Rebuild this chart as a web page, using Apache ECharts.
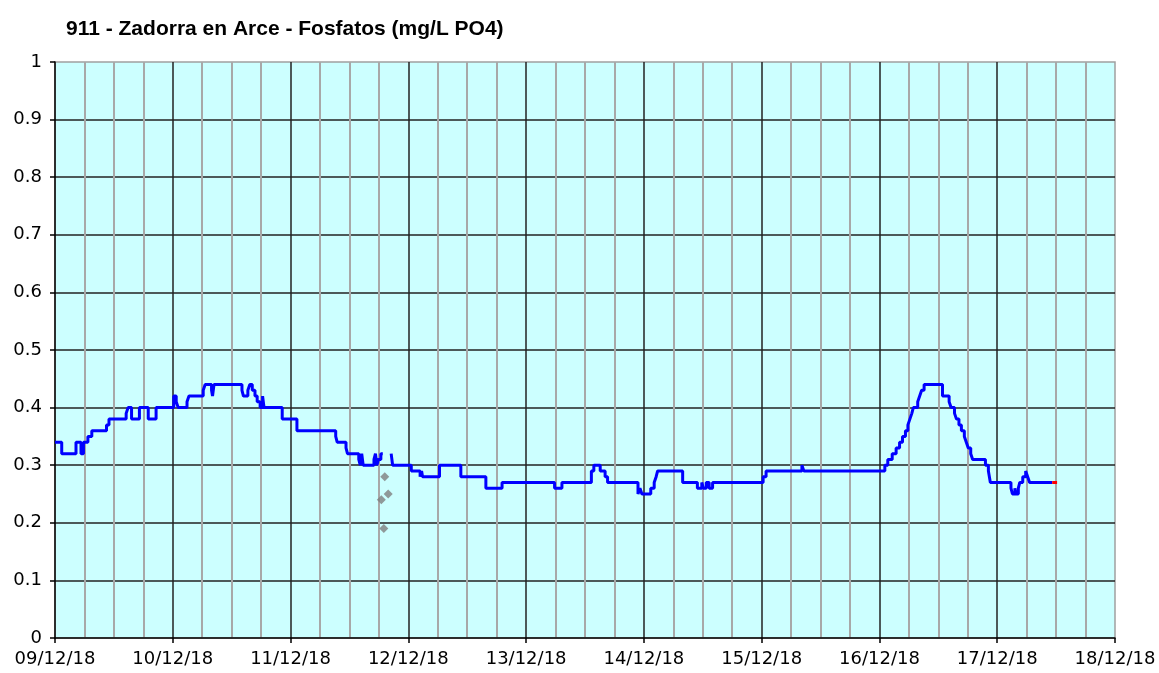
<!DOCTYPE html>
<html>
<head>
<meta charset="utf-8">
<script src="https://cdn.jsdelivr.net/npm/echarts@6/dist/echarts.min.js"></script>
<style>
html,body{margin:0;padding:0;background:#fff;}
#chart{width:1159px;height:673px;}
</style>
</head>
<body>
<div id="chart"></div>
<script>
// Time is expressed in hours since 09/12/18 00:00
var startDay = 9;
var xTickLabels = ['09/12/18','10/12/18','11/12/18','12/12/18','13/12/18','14/12/18','15/12/18','16/12/18','17/12/18','18/12/18'];
var yTickLabels = ['0','0.1','0.2','0.3','0.4','0.5','0.6','0.7','0.8','0.9','1'];

// Blue step series (value holds from each time until the next); null = gap
var blueTimes = [0,1.37,4.28,5.3,5.8,6.7,7.5,10.5,11.0,14.5,14.9,15.6,17.2,19.0,20.6,24.2,24.7,25.1,26.9,27.3,30.2,30.6,31.9,32.1,32.4,38.1,38.4,39.3,39.7,40.2,40.75,41.2,41.8,42.3,42.6,46.3,49.3,57.2,57.5,59.3,59.6,61.9,62.2,62.5,62.8,65.0,65.3,65.6,65.9,66.4,66.8,66.9,
  68.5,68.8,72.6,74.4,74.7,74.9,78.35,82.7,87.8,91.1,101.8,103.3,109.3,109.8,111.1,112.1,112.6,118.8,119.2,119.6,121.4,122.1,122.5,122.8,127.9,130.9,131.8,132.1,132.7,133.3,134.0,144.3,144.9,152.2,152.6,
  169.1,169.7,170.6,171.4,172.1,172.7,173.3,173.8,174.2,174.6,174.9,175.8,176.2,176.6,177.1,180.85,182.2,182.6,183.3,183.7,184.2,184.7,185.3,185.7,186.1,186.6,187.0,189.6,190.2,190.6,194.8,195.1,195.6,195.8,196.3,196.6,197.2,197.8,198.2,198.6,203.2];
var blueValues = [0.34,0.32,0.34,0.32,0.34,0.35,0.36,0.37,0.38,0.39,0.40,0.38,0.40,0.38,0.40,0.42,0.41,0.40,0.41,0.42,0.43,0.44,0.43,0.42,0.44,0.43,0.42,0.43,0.44,0.43,0.42,0.41,0.40,0.42,0.40,0.38,0.36,0.35,0.34,0.33,0.32,0.31,0.30,0.32,0.30,0.31,0.32,0.30,0.31,0.32,0.32,null,
  0.32,0.30,0.29,0.28,0.29,0.28,0.30,0.28,0.26,0.27,0.26,0.27,0.29,0.30,0.29,0.28,0.27,0.25,0.26,0.25,0.26,0.27,0.28,0.29,0.27,0.26,0.27,0.26,0.27,0.26,0.27,0.28,0.29,0.30,0.29,
  0.30,0.31,0.32,0.33,0.34,0.35,0.36,0.37,0.38,0.39,0.40,0.41,0.42,0.43,0.44,0.42,0.41,0.40,0.39,0.38,0.37,0.36,0.35,0.34,0.33,0.32,0.31,0.30,0.29,0.27,0.26,0.25,0.26,0.25,0.26,0.27,0.28,0.29,0.28,0.27,0.27];

// Red (latest) segment
var redTimes = [203.2,204.2];
var redValues = [0.27,0.27];

// Gray isolated points
var grayTimes = [67.2,67.9,66.5,67.0];
var grayValues = [0.28,0.25,0.24,0.19];

function zip(t, v){
  return t.map(function(x,i){ return [x, v[i] === null ? '-' : v[i]]; });
}

var chart = echarts.init(document.getElementById('chart'));
var labelFont = 'DejaVu Sans';
chart.setOption({
  animation:false,
  backgroundColor:'#ffffff',
  title:{
    text:'911 - Zadorra en Arce - Fosfatos (mg/L PO4)',
    left:61, top:14,
    textStyle:{fontFamily:'Liberation Sans, Arial', fontWeight:'bold', fontSize:21, color:'#000'}
  },
  grid:{left:55,right:44,top:62,bottom:35,show:true,backgroundColor:'#ccffff',borderColor:'#a0a0a0',borderWidth:1.5},
  xAxis:{
    type:'value', min:0, max:216, interval:24,
    axisLine:{show:true,onZero:false,lineStyle:{color:'#000',width:1.5}},
    axisTick:{show:true,length:5,lineStyle:{color:'#000',width:1.5}},
    minorTick:{show:false,splitNumber:4},
    minorSplitLine:{show:true,lineStyle:{color:'#a8a8a8',width:2}},
    splitLine:{show:true,showMinLine:false,showMaxLine:false,lineStyle:{color:'#222',width:1.5}},
    axisLabel:{
      margin:12, fontFamily:labelFont, fontSize:18, color:'#000',
      formatter:function(v){ var i=Math.round(v/24); return xTickLabels[i]||''; }
    }
  },
  yAxis:{
    type:'value', min:0, max:1, interval:0.1,
    axisLine:{show:true,lineStyle:{color:'#000',width:1.5}},
    axisTick:{show:true,length:5,lineStyle:{color:'#000',width:1.5}},
    splitLine:{show:true,showMinLine:false,showMaxLine:false,lineStyle:{color:'#222',width:1.5}},
    axisLabel:{
      margin:13, fontFamily:labelFont, fontSize:18, color:'#000',
      formatter:function(v){ return yTickLabels[Math.round(v*10)]; }
    }
  },
  series:[
    {type:'line', step:'end', data:zip(blueTimes,blueValues), showSymbol:false, connectNulls:false,
     lineStyle:{color:'#0000ff',width:3}, itemStyle:{color:'#0000ff'}, z:3},
    {type:'line', data:zip(redTimes,redValues), showSymbol:false,
     lineStyle:{color:'#ff0000',width:3}, z:4},
    {type:'scatter', data:zip(grayTimes,grayValues), symbol:'diamond', symbolSize:9,
     itemStyle:{color:'#808080'}, z:5}
  ]
});
</script>
</body>
</html>
